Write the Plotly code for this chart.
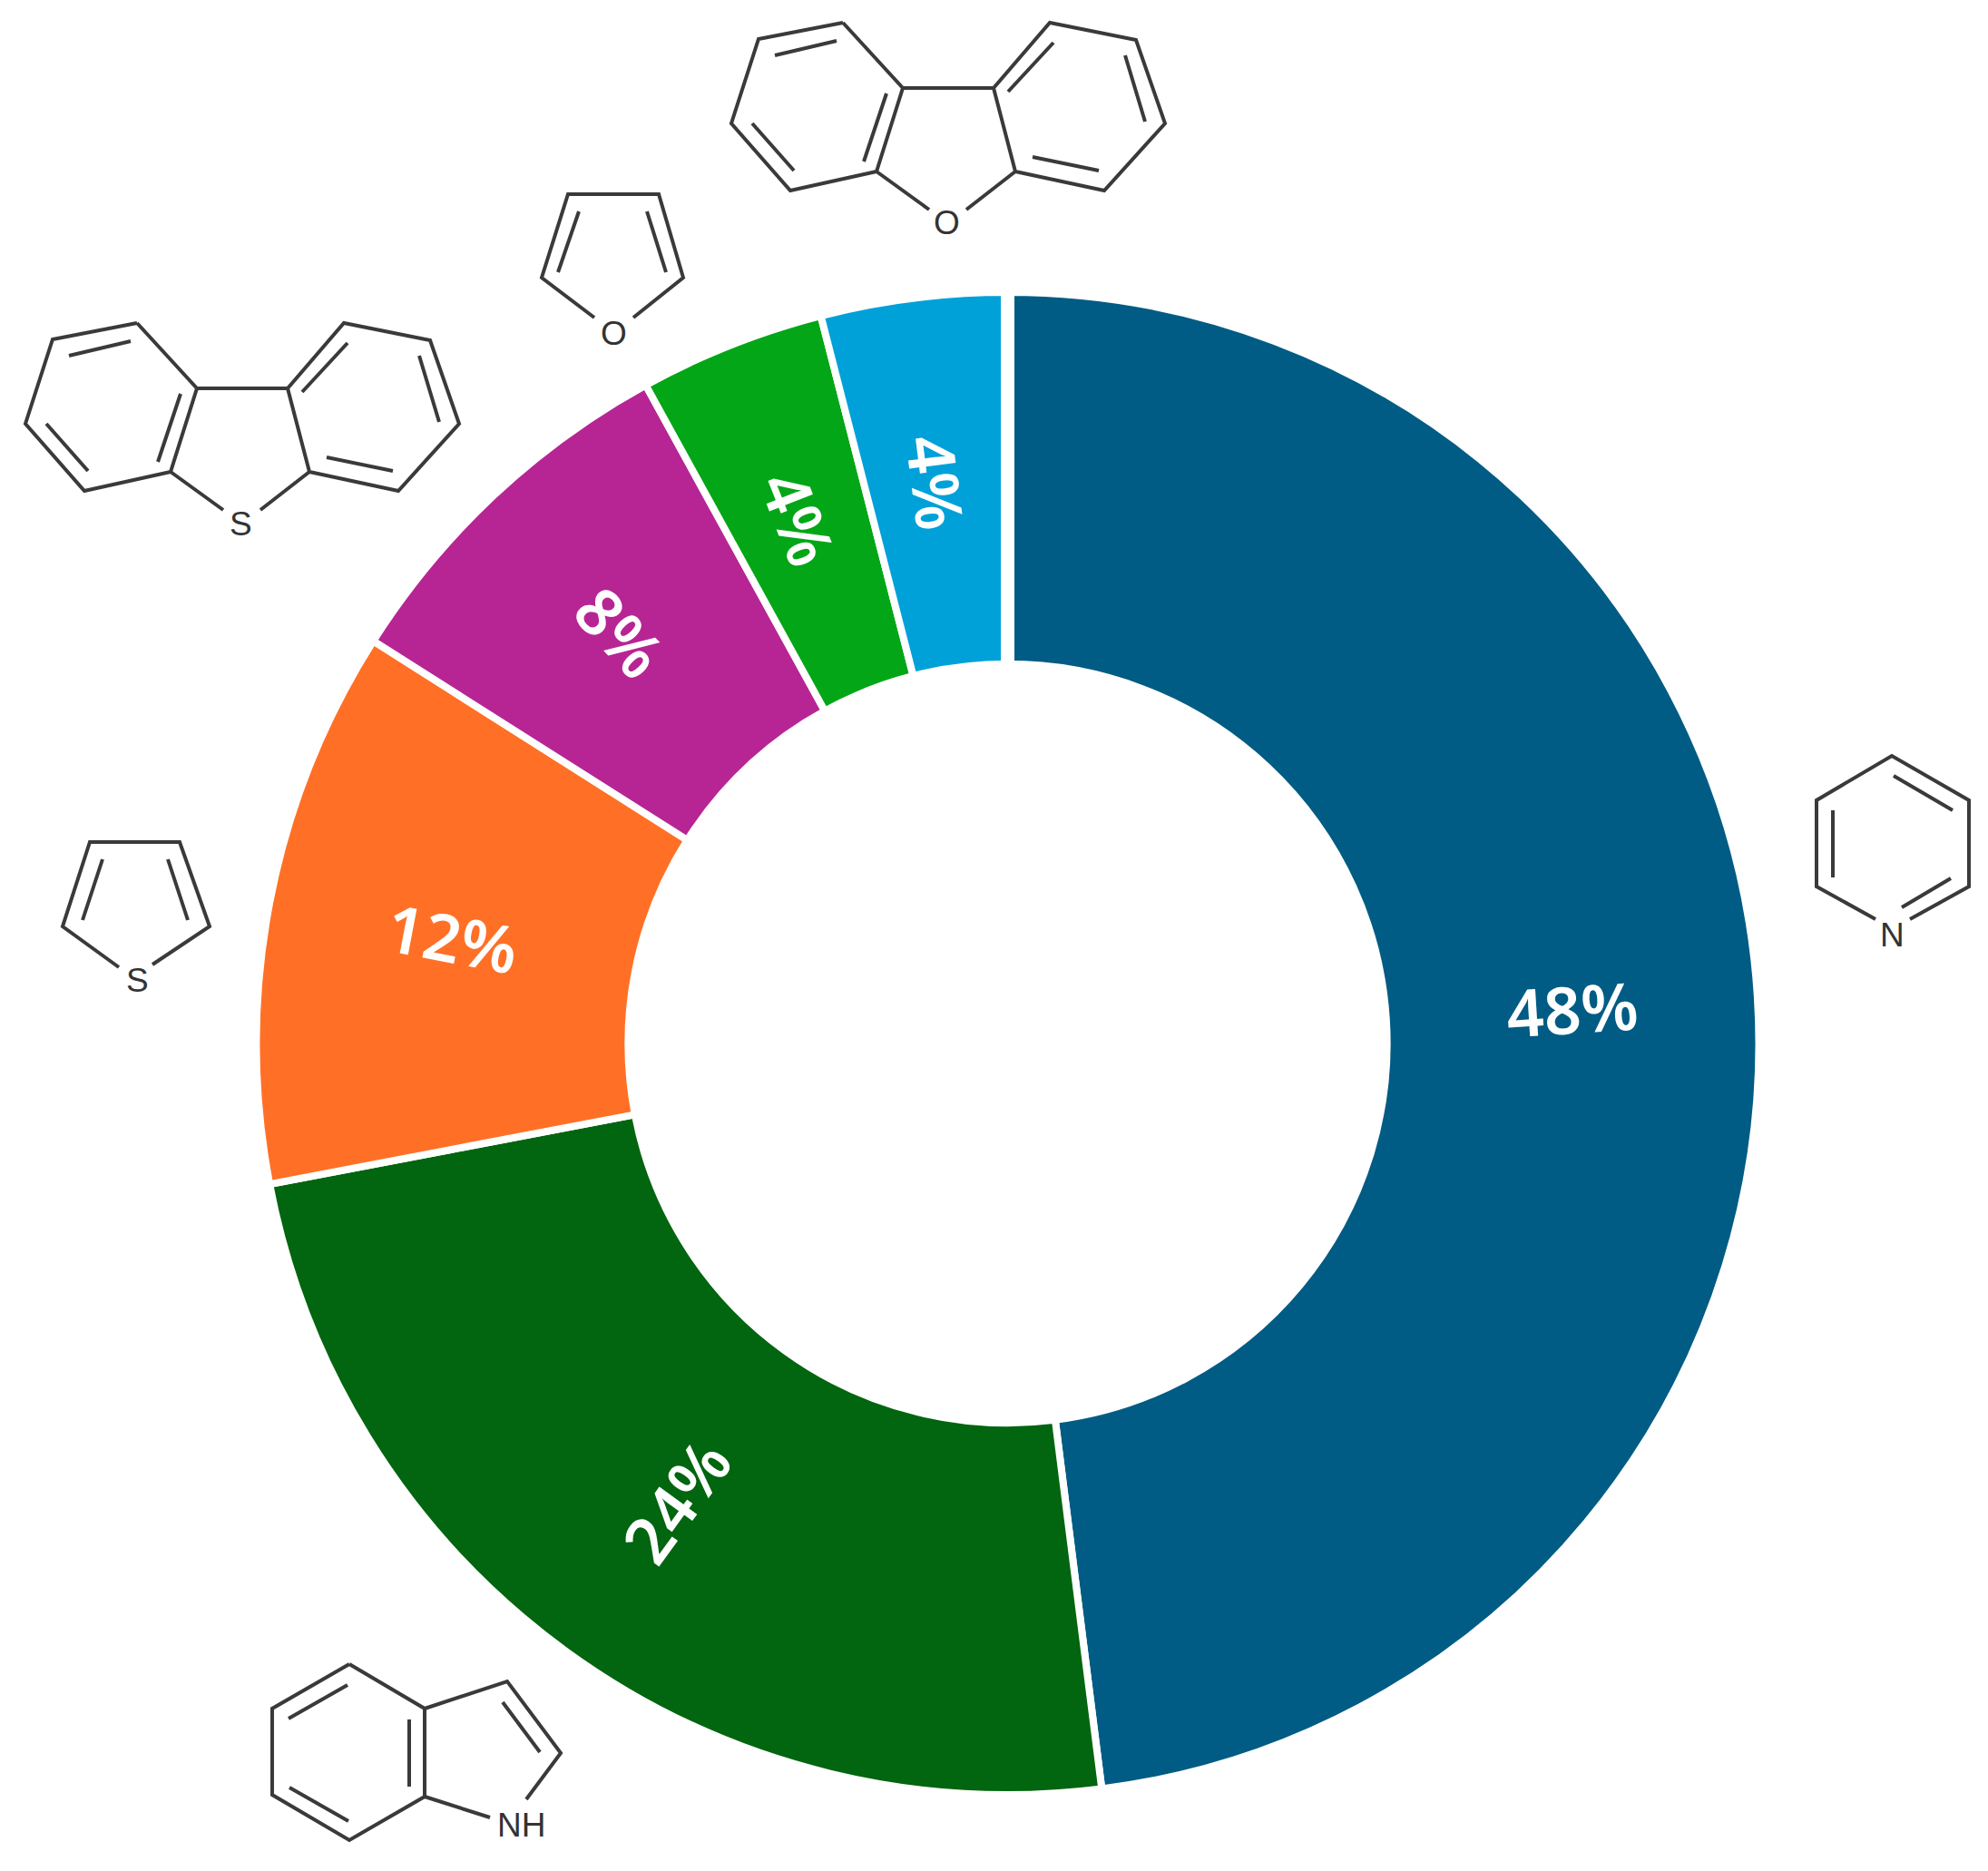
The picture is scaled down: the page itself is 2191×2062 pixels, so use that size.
import math
import plotly.graph_objects as go

# ---- data ----
categories = ["Pyridine", "Indole", "Thiophene", "Dibenzothiophene", "Furan", "Dibenzofuran"]
values = [48, 24, 12, 8, 4, 4]
colors = ["#005C84", "#02650F", "#FF7026", "#B72594", "#02A616", "#00A1D9"]

W, H = 2191, 2062
CX, CY, R = 1110.5, 1150, 828
HOLE = 0.505
LABEL_SIZE = 72
LABEL_R = 623

# ---- decorative structural formulae (page pixels) ----
tricycle = [
    [(929, 25), (836, 43), (806, 136), (871, 210), (966, 189), (995, 97), (929, 25)],
    [(995, 97), (1095, 97), (1157, 25), (1252, 44), (1284, 136), (1217, 210), (1119, 189), (1095, 97)],
    [(966, 189), (1024, 231)], [(1119, 189), (1065, 231)],
    [(854, 61), (922, 45)], [(829, 136), (875, 188)], [(952, 178), (977, 103)],
    [(1111, 101), (1161, 47)], [(1240, 61), (1262, 134)], [(1138, 173), (1211, 188)],
]
furan = [
    [(655, 350), (597, 306), (626, 214), (726, 214), (753, 306), (698, 350)],
    [(638, 233), (615, 300)], [(713, 233), (734, 300)],
]
indole = [
    [(385, 1834), (300, 1883), (300, 1978), (385, 2028), (468, 1980), (468, 1883), (385, 1834)],
    [(468, 1883), (559, 1853), (618, 1932), (580, 1983)], [(468, 1980), (540, 2003)],
    [(318, 1894), (383, 1857)], [(319, 1970), (384, 2007)], [(451, 1895), (451, 1969)], [(554, 1876), (595, 1931)],
]
pyridine = [
    [(2067, 1013), (2002, 977), (2002, 882), (2085, 833), (2170, 882), (2170, 977), (2105, 1013)],
    [(2087, 855), (2152, 893)], [(2020, 893), (2020, 967)], [(2096, 1000), (2150, 968)],
]
thiophene = [
    [(131, 1066), (69, 1021), (99, 928), (198, 928), (231, 1021), (168, 1063)],
    [(113, 947), (91, 1014)], [(185, 947), (207, 1014)],
]
atoms = [("O", 1043, 245), ("S", 265, 577), ("O", 676, 367), ("NH", 574, 2011), ("N", 2085, 1030), ("S", 151, 1080)]


def shifted(paths, dx, dy):
    return [[(x + dx, y + dy) for x, y in p] for p in paths]


def add_molecule(fig, paths):
    xs, ys = [], []
    for p in paths:
        xs += [q[0] for q in p] + [None]
        ys += [q[1] for q in p] + [None]
    fig.add_trace(go.Scatter(x=xs, y=ys, mode="lines", hoverinfo="skip", showlegend=False,
                             line=dict(color="#3A3A3A", width=4)))


fig = go.Figure()
for mol in (tricycle, shifted(tricycle, -778, 331), furan, indole, pyridine, thiophene):
    add_molecule(fig, mol)

fig.add_trace(go.Pie(
    labels=categories, values=values, sort=False, direction="clockwise", rotation=0,
    hole=HOLE, textinfo="none",
    marker=dict(colors=colors, line=dict(color="white", width=8)),
    domain=dict(x=[(CX - R) / W, (CX + R) / W], y=[(H - CY - R) / H, (H - CY + R) / H]),
    showlegend=False,
))

# percentage labels, radial, at the middle of the ring
total = sum(values)
cum = 0
for v in values:
    mid = (cum + v / 2) / total * 360
    cum += v
    a = math.radians(mid)
    fig.add_annotation(
        x=CX + LABEL_R * math.sin(a), y=CY - LABEL_R * math.cos(a), xref="x", yref="y",
        text=f"{round(v / total * 100)}%", showarrow=False,
        textangle=(mid - 90) if mid < 180 else (mid - 270),
        font=dict(family="Noto Sans", size=LABEL_SIZE, color="white", weight=600),
    )

for txt, x, y in atoms:
    fig.add_annotation(x=x, y=y, text=txt, showarrow=False, xref="x", yref="y",
                       font=dict(family="Liberation Sans", size=37, color="#333333"))

# wider gap at twelve o'clock
fig.add_shape(type="line", x0=CX, x1=CX, y0=CY - R, y1=CY - 400, xref="x", yref="y", layer="above",
              line=dict(color="white", width=15))

fig.update_layout(
    width=W, height=H, margin=dict(l=0, r=0, t=0, b=0), autosize=False,
    paper_bgcolor="white", plot_bgcolor="white", showlegend=False,
    xaxis=dict(range=[0, W], visible=False, fixedrange=True),
    yaxis=dict(range=[H, 0], visible=False, fixedrange=True),
)
fig.write_html("out.html", config=dict(displayModeBar=False),
               post_script="document.body.style.margin='0';document.body.style.overflow='hidden';")
